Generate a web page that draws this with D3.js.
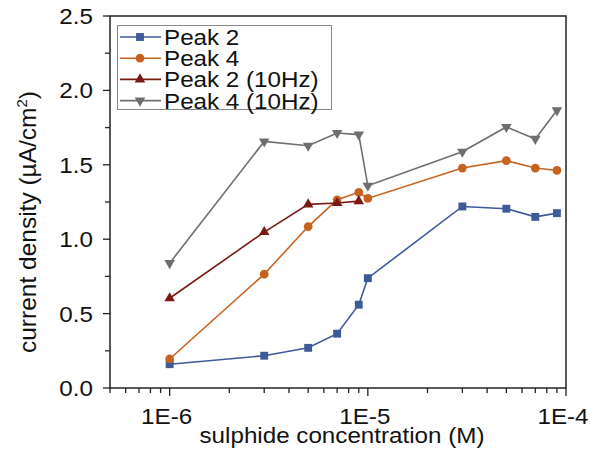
<!DOCTYPE html>
<html>
<head>
<meta charset="utf-8">
<script src="https://cdn.jsdelivr.net/npm/d3@7"></script>
<style>
  body { margin: 0; background: #fff; }
  svg text { font-family: "Liberation Sans", Arial, Helvetica, sans-serif; fill: #111; }
</style>
</head>
<body>
<div id="container"></div>
<script>
/* chart values */
var concentrations = [1e-6, 3e-6, 5e-6, 7e-6, 9e-6, 1e-5, 3e-5, 5e-5, 7e-5, 9e-5];
var peak2 = [0.16, 0.217, 0.27, 0.365, 0.56, 0.738, 1.22, 1.205, 1.15, 1.175];
var peak4 = [0.195, 0.765, 1.085, 1.265, 1.315, 1.274, 1.478, 1.528, 1.478, 1.462];
var peak2_10hz = [0.603, 1.048, 1.234, 1.243, 1.256];
var peak4_10hz = [0.839, 1.657, 1.628, 1.714, 1.703, 1.359, 1.588, 1.754, 1.674, 1.866];
var seriesNames = ["Peak 2", "Peak 4", "Peak 2 (10Hz)", "Peak 4 (10Hz)"];
var yTicks = [0, 0.5, 1.0, 1.5, 2.0, 2.5];
var xTickLabels = ["1E-6", "1E-5", "1E-4"];

var width = 590, height = 449;
var STRETCH = 1.1;   // the picture's text is a bit wide

var series = [
  { name: seriesNames[0], values: peak2, color: "#3d5a99", shape: d3.symbolSquare, size: 62, rot: 0 },
  { name: seriesNames[1], values: peak4, color: "#c8621f", shape: d3.symbolCircle, size: 60, rot: 0 },
  { name: seriesNames[2], values: peak2_10hz, color: "#7a1a14", shape: d3.symbolTriangle, size: 48, rot: 0 },
  { name: seriesNames[3], values: peak4_10hz, color: "#6e6e6e", shape: d3.symbolTriangle, size: 48, rot: 180 }
];

var x = d3.scaleLog().domain([5e-7, 1e-4]).range([110, 566]);
var y = d3.scaleLinear().domain([0, 2.5]).range([388, 16]);

var svg = d3.select("#container").append("svg")
    .attr("width", width)
    .attr("height", height);

/* stretched text helper */
function label(g, tx, ty, str, size, anchor) {
  return g.append("text")
    .attr("transform", "translate(" + tx + "," + ty + ") scale(" + STRETCH + ",1)")
    .attr("text-anchor", anchor || "start")
    .style("font-size", size + "px")
    .text(str);
}

/* y ticks */
var yMinor = d3.range(0.25, 2.5, 0.5);
svg.append("g").selectAll("line.ymaj")
  .data(yTicks).enter().append("line")
  .attr("x1", 103).attr("x2", 110)
  .attr("y1", d => y(d)).attr("y2", d => y(d))
  .attr("stroke", "#222").attr("stroke-width", 1.3);
svg.append("g").selectAll("line.ymin")
  .data(yMinor).enter().append("line")
  .attr("x1", 105).attr("x2", 110)
  .attr("y1", d => y(d)).attr("y2", d => y(d))
  .attr("stroke", "#222").attr("stroke-width", 1.3);
yTicks.forEach(function (d) {
  label(svg, 93, y(d) + 8, d.toFixed(1), 22, "end");
});

/* x ticks */
var xMajor = [1e-6, 1e-5, 1e-4];
var xMinor = [];
[1e-7, 1e-6, 1e-5].forEach(function (base) {
  for (var k = 2; k <= 9; k++) {
    var v = base * k;
    if (v >= 5e-7 && v <= 1e-4) xMinor.push(v);
  }
});
svg.append("g").selectAll("line.xmin")
  .data(xMinor).enter().append("line")
  .attr("x1", d => x(d)).attr("x2", d => x(d))
  .attr("y1", 388).attr("y2", 393)
  .attr("stroke", "#222").attr("stroke-width", 1.3);
svg.append("g").selectAll("line.xmaj")
  .data(xMajor).enter().append("line")
  .attr("x1", d => x(d)).attr("x2", d => x(d))
  .attr("y1", 388).attr("y2", 396)
  .attr("stroke", "#222").attr("stroke-width", 1.3);
xMajor.forEach(function (d, i) {
  label(svg, x(d) - 3, 424, xTickLabels[i], 22, "middle");
});

/* frame */
svg.append("rect")
  .attr("x", 110).attr("y", 16)
  .attr("width", 456).attr("height", 372)
  .attr("fill", "none")
  .attr("stroke", "#222").attr("stroke-width", 1.5);

/* axis titles */
label(svg, 342, 443, "sulphide concentration (M)", 22, "middle");

var yt = svg.append("text")
  .attr("transform", "translate(36,222) rotate(-90)")
  .attr("text-anchor", "middle")
  .style("font-size", "24.5px");
yt.append("tspan").text("current density (\u00b5A/cm");
yt.append("tspan").attr("dy", -9).style("font-size", "15px").text("2");
yt.append("tspan").attr("dy", 9).text(")");

/* series */
var line = d3.line()
  .x(d => x(d[0]))
  .y(d => y(d[1]));

series.forEach(function (s) {
  var pts = s.values.map(function (v, i) { return [concentrations[i], v]; });
  svg.append("path")
    .datum(pts)
    .attr("d", line)
    .attr("fill", "none")
    .attr("stroke", s.color)
    .attr("stroke-width", 1.6);
  svg.append("g").selectAll("path")
    .data(pts).enter().append("path")
    .attr("d", d3.symbol().type(s.shape).size(s.size))
    .attr("transform", d => "translate(" + x(d[0]) + "," + y(d[1]) + ") rotate(" + s.rot + ")")
    .attr("fill", s.color);
});

/* legend */
var leg = svg.append("g");
leg.append("rect")
  .attr("x", 117.5).attr("y", 25.5)
  .attr("width", 214).attr("height", 84)
  .attr("fill", "#fff")
  .attr("stroke", "#888").attr("stroke-width", 1);
series.forEach(function (s, i) {
  var ly = 37 + i * 21.2;
  leg.append("line")
    .attr("x1", 120).attr("x2", 161)
    .attr("y1", ly).attr("y2", ly)
    .attr("stroke", s.color).attr("stroke-width", 1.6);
  leg.append("path")
    .attr("d", d3.symbol().type(s.shape).size(s.size))
    .attr("transform", "translate(140," + ly + ") rotate(" + s.rot + ")")
    .attr("fill", s.color);
  label(leg, 164, ly + 8, s.name, 22, "start").attr("textLength", null);
});
</script>
</body>
</html>
